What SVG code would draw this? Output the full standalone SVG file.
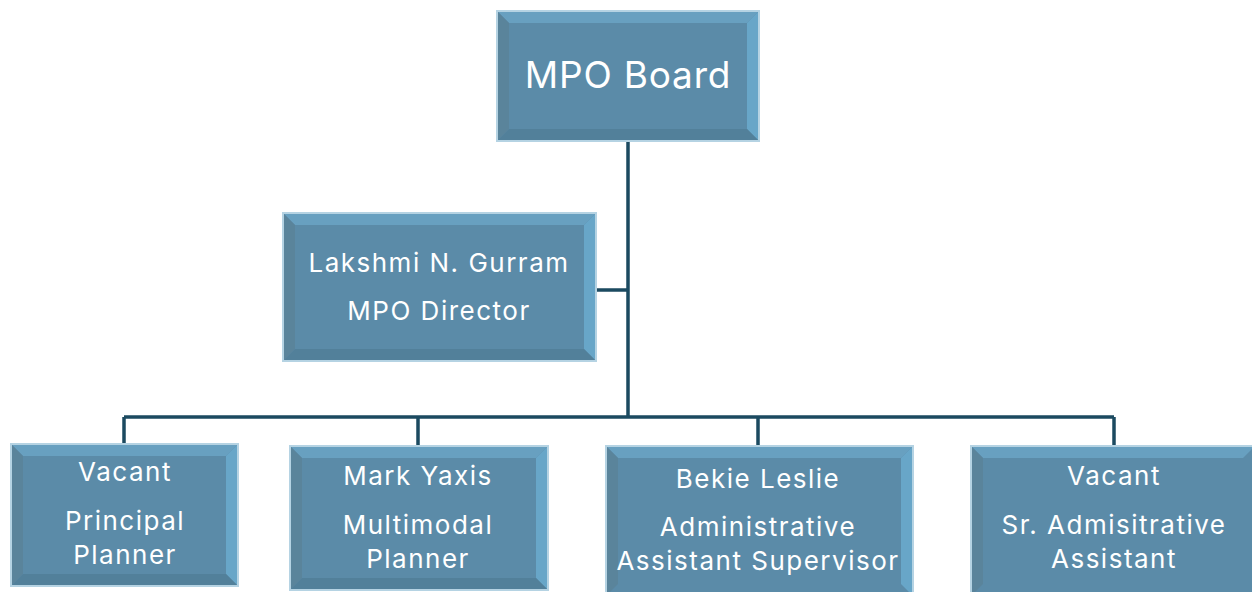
<svg xmlns="http://www.w3.org/2000/svg" width="1252" height="592" viewBox="0 0 1252 592">
<style>
.face{fill:#5b8ba8}
.top{fill:#68a0c0}
.left{fill:#5a849b}
.right{fill:#68a6c8}
.bot{fill:#52809a}
.edge{fill:none;stroke:#b5d3e3;stroke-width:2}
.t{fill:#fff;font-family:Inter,"Noto Sans",sans-serif;text-anchor:middle}
.big{font-size:37px;letter-spacing:0.8px}
.s{font-size:26px;letter-spacing:1.5px}
.con{fill:none;stroke:#1b4a60;stroke-width:3.5}
</style>
<g id="connectors">
<path class="con" d="M628 140V417M596 290H628M124 417H1114M124 417V445M418 417V446M758 417V446M1114 417V446"/>
</g>
<g id="board">
<rect class="face" x="497" y="11" width="262" height="130"/>
<polygon class="top" points="497,11 759,11 747,23 509,23"/>
<polygon class="left" points="497,11 509,23 509,129 497,141"/>
<polygon class="right" points="759,11 759,141 747,129 747,23"/>
<polygon class="bot" points="497,141 759,141 747,129 509,129"/>
<rect class="edge" x="497" y="11" width="262" height="130"/>
<text class="t big" x="628" y="88">MPO Board</text>
</g>
<g id="director">
<rect class="face" x="283" y="213" width="313" height="148"/>
<polygon class="top" points="283,213 596,213 584,225 295,225"/>
<polygon class="left" points="283,213 295,225 295,349 283,361"/>
<polygon class="right" points="596,213 596,361 584,349 584,225"/>
<polygon class="bot" points="283,361 596,361 584,349 295,349"/>
<rect class="edge" x="283" y="213" width="313" height="148"/>
<text class="t s" x="439" y="272">Lakshmi N. Gurram</text>
<text class="t s" x="439" y="320">MPO Director</text>
</g>
<g id="principal">
<rect class="face" x="11" y="444" width="227" height="142"/>
<polygon class="top" points="11,444 238,444 226,456 23,456"/>
<polygon class="left" points="11,444 23,456 23,574 11,586"/>
<polygon class="right" points="238,444 238,586 226,574 226,456"/>
<polygon class="bot" points="11,586 238,586 226,574 23,574"/>
<rect class="edge" x="11" y="444" width="227" height="142"/>
<text class="t s" x="125" y="481">Vacant</text>
<text class="t s" x="125" y="530">Principal</text>
<text class="t s" x="125" y="564">Planner</text>
</g>
<g id="multimodal">
<rect class="face" x="290" y="446" width="258" height="144"/>
<polygon class="top" points="290,446 548,446 536,458 302,458"/>
<polygon class="left" points="290,446 302,458 302,578 290,590"/>
<polygon class="right" points="548,446 548,590 536,578 536,458"/>
<polygon class="bot" points="290,590 548,590 536,578 302,578"/>
<rect class="edge" x="290" y="446" width="258" height="144"/>
<text class="t s" x="418" y="485">Mark Yaxis</text>
<text class="t s" x="418" y="534">Multimodal</text>
<text class="t s" x="418" y="568">Planner</text>
</g>
<g id="supervisor">
<rect class="face" x="606" y="446" width="307" height="150"/>
<polygon class="top" points="606,446 913,446 901,458 618,458"/>
<polygon class="left" points="606,446 618,458 618,584 606,596"/>
<polygon class="right" points="913,446 913,596 901,584 901,458"/>
<rect class="edge" x="606" y="446" width="307" height="150"/>
<text class="t s" x="758" y="488">Bekie Leslie</text>
<text class="t s" x="758" y="536">Administrative</text>
<text class="t s" x="758" y="570">Assistant Supervisor</text>
</g>
<g id="sradmin">
<rect class="face" x="971" y="446" width="284" height="150"/>
<polygon class="top" points="971,446 1255,446 1243,458 983,458"/>
<polygon class="left" points="971,446 983,458 983,584 971,596"/>
<rect class="edge" x="971" y="446" width="284" height="150"/>
<text class="t s" x="1114" y="485">Vacant</text>
<text class="t s" x="1114" y="534">Sr. Admisitrative</text>
<text class="t s" x="1114" y="568">Assistant</text>
</g>
</svg>
